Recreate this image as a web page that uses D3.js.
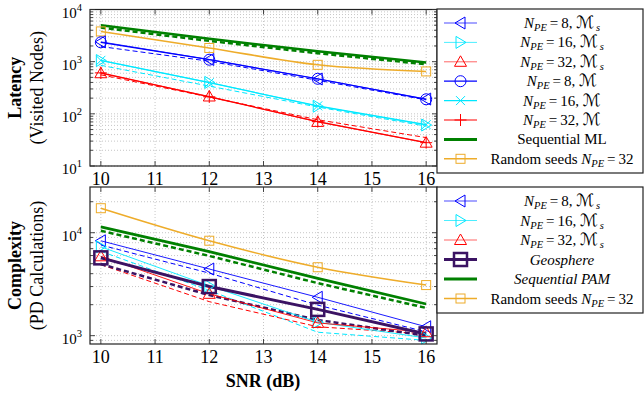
<!DOCTYPE html>
<html>
<head>
<meta charset="utf-8">
<script src="https://cdn.jsdelivr.net/npm/d3@7"></script>
<style>
  body { margin: 0; background: #fff; }
  svg { font-family: "Liberation Serif", "DejaVu Serif", serif; }
</style>
</head>
<body>
<div id="chart"></div>
<script>
// SNR points (dB)
const snr = [10, 12, 14, 16];

// latency panel (visited nodes)
const latNpe8Ms = [2400, 1100, 465, 192];
const latNpe16Ms = [1050, 400, 140, 61];
const latNpe32Ms = [600, 215, 70, 28];
const latNpe8M = [2350, 1090, 470, 190];
const latNpe16M = [1060, 395, 142, 62];
const latNpe32M = [610, 212, 71, 28];
const latSeqML = [5000, 2750, 1580, 960];
const latRandom = [3800, 1830, 870, 650];
// dashed companions (no legend entry)
const latDash8 = [1950, 1020, 440, 185];
const latDash16 = [850, 340, 135, 58];
const latDash32 = [560, 210, 77, 35];
const latDashSeq = [4500, 2500, 1450, 890];

// complexity panel (PD calculations)
const cpxNpe8Ms = [8350, 4440, 2360, 1220];
const cpxNpe16Ms = [7300, 3050, 1350, 950];
const cpxNpe32Ms = [5900, 2550, 1330, 1080];
const cpxGeo = [5700, 3000, 1800, 1040];
const cpxSeqPAM = [11400, 6550, 3600, 2030];
const cpxRandom = [17300, 8360, 4620, 3100];
const cpxDash8 = [7600, 4050, 1980, 1090];
const cpxDash16 = [6600, 2750, 1080, 900];
const cpxDash32 = [4900, 2140, 1220, 1040];
const cpxDashGeo = [4960, 2480, 1420, 1000];
const cpxDashSeq = [10450, 5950, 3240, 1860];

const xTicks = [10, 11, 12, 13, 14, 15, 16];

const BLUE = "#0000ff", CYAN = "#00e8ff", RED = "#ff0000",
      GREEN = "#008000", ORANGE = "#eeac2a", PURPLE = "#3b1363";

const width = 644, height = 396;
const svg = d3.select("#chart").append("svg")
    .attr("width", width).attr("height", height);

const x = d3.scaleLinear().domain([9.8, 16.2]).range([90, 437]);

function drawMarker(g, type, cx, cy, color, opts) {
    opts = opts || {};
    const sw = opts.sw || 1;
    if (type == "triL" || type == "triR" || type == "triU") {
        let pts;
        if (type == "triL") pts = [[cx - 5.5, cy], [cx + 4.5, cy - 6], [cx + 4.5, cy + 6]];
        if (type == "triR") pts = [[cx + 5.5, cy], [cx - 4.5, cy - 6], [cx - 4.5, cy + 6]];
        if (type == "triU") pts = [[cx, cy - 6], [cx - 6, cy + 4.5], [cx + 6, cy + 4.5]];
        g.append("polygon").attr("points", pts.map(p => p.join(",")).join(" "))
            .attr("fill", "none").attr("stroke", color).attr("stroke-width", sw);
    } else if (type == "circle") {
        g.append("circle").attr("cx", cx).attr("cy", cy).attr("r", 5.5)
            .attr("fill", "none").attr("stroke", color).attr("stroke-width", sw);
    } else if (type == "x") {
        const s = 4.5;
        g.append("path").attr("d", `M${cx - s},${cy - s}L${cx + s},${cy + s}M${cx - s},${cy + s}L${cx + s},${cy - s}`)
            .attr("stroke", color).attr("stroke-width", sw);
    } else if (type == "plus") {
        const s = 6;
        g.append("path").attr("d", `M${cx - s},${cy}L${cx + s},${cy}M${cx},${cy - s}L${cx},${cy + s}`)
            .attr("stroke", color).attr("stroke-width", sw);
    } else if (type == "square") {
        const s = opts.size || 9;
        g.append("rect").attr("x", cx - s / 2).attr("y", cy - s / 2)
            .attr("width", s).attr("height", s)
            .attr("fill", "none").attr("stroke", color).attr("stroke-width", sw);
    }
}

function drawPanel(cfg) {
    const y = cfg.y;
    const [y0, y1] = y.range(); // bottom, top
    const [xl, xr] = x.range();
    const g = svg.append("g");

    // grid
    const grid = g.append("g").attr("stroke", "#b8b8b8").attr("stroke-width", 0.8)
        .attr("stroke-dasharray", "1,2");
    xTicks.forEach(t => grid.append("line")
        .attr("x1", x(t)).attr("x2", x(t)).attr("y1", y0).attr("y2", y1));
    cfg.yGrid.forEach(v => grid.append("line")
        .attr("x1", xl).attr("x2", xr).attr("y1", y(v)).attr("y2", y(v)));

    // lines
    cfg.series.forEach(s => {
        const line = d3.line()
            .x((d, i) => x(snr[i]))
            .y(d => y(d))
            .curve(s.curve || d3.curveLinear);
        g.append("path").datum(s.values)
            .attr("d", line)
            .attr("fill", "none")
            .attr("stroke", s.color)
            .attr("stroke-width", s.width)
            .attr("stroke-dasharray", s.dash || null)
            .attr("opacity", s.opacity || 1);
    });
    // markers
    cfg.series.forEach(s => {
        if (!s.marker) return;
        s.values.forEach((v, i) => drawMarker(g, s.marker, x(snr[i]), y(v), s.color,
            { sw: s.msw, size: s.msize }));
    });

    // frame
    g.append("rect").attr("x", xl).attr("y", y1).attr("width", xr - xl).attr("height", y0 - y1)
        .attr("fill", "none").attr("stroke", "#222").attr("stroke-width", 1.2);

    // ticks (inward, both sides)
    const tk = g.append("g").attr("stroke", "#333").attr("stroke-width", 0.9);
    xTicks.forEach(t => {
        tk.append("line").attr("x1", x(t)).attr("x2", x(t)).attr("y1", y0).attr("y2", y0 - 5);
        tk.append("line").attr("x1", x(t)).attr("x2", x(t)).attr("y1", y1).attr("y2", y1 + 5);
    });
    cfg.yMajor.forEach(v => {
        tk.append("line").attr("x1", xl).attr("x2", xl + 5).attr("y1", y(v)).attr("y2", y(v));
        tk.append("line").attr("x1", xr).attr("x2", xr - 5).attr("y1", y(v)).attr("y2", y(v));
    });
    cfg.yGrid.forEach(v => {
        if (cfg.yMajor.includes(v)) return;
        tk.append("line").attr("x1", xl).attr("x2", xl + 3).attr("y1", y(v)).attr("y2", y(v));
        tk.append("line").attr("x1", xr).attr("x2", xr - 3).attr("y1", y(v)).attr("y2", y(v));
    });

    // tick labels
    xTicks.forEach(t => g.append("text")
        .attr("x", x(t)).attr("y", y0 + 19)
        .attr("text-anchor", "middle").attr("font-size", 18)
        .text(t));
    cfg.yMajor.forEach(v => {
        const t = g.append("text").attr("x", 82).attr("y", y(v) + 8)
            .attr("text-anchor", "end").attr("font-size", 15);
        t.append("tspan").text("10");
        t.append("tspan").attr("dy", -7).attr("font-size", 10.5).text(Math.round(Math.log10(v)));
    });

    // y labels
    const cy = (y0 + y1) / 2;
    g.append("text").attr("transform", `translate(21,${cy}) rotate(-90)`)
        .attr("text-anchor", "middle").attr("font-weight", "bold").attr("font-size", 18)
        .text(cfg.title);
    g.append("text").attr("transform", `translate(43,${cy}) rotate(-90)`)
        .attr("text-anchor", "middle").attr("font-size", 18)
        .text(cfg.subtitle);

    // legend
    const lg = svg.append("g");
    lg.append("rect").attr("x", 437).attr("y", cfg.legend.top)
        .attr("width", 206).attr("height", cfg.legend.bottom - cfg.legend.top)
        .attr("fill", "#fff").attr("stroke", "#222").attr("stroke-width", 1.2);
    cfg.legend.items.forEach((it, i) => {
        const ly = cfg.legend.first + i * cfg.legend.step;
        lg.append("line").attr("x1", 444).attr("x2", 477).attr("y1", ly).attr("y2", ly)
            .attr("stroke", it.color).attr("stroke-width", it.width).attr("opacity", it.opacity || 1);
        if (it.marker) drawMarker(lg, it.marker, 460.5, ly, it.color, { sw: it.msw, size: it.msize });
        const t = lg.append("text").attr("x", 562).attr("y", ly + 5)
            .attr("text-anchor", "middle").attr("font-size", 15);
        it.label(t);
    });
}

function npe(n, script) {
    return t => {
        t.append("tspan").attr("font-style", "italic").text("N");
        t.append("tspan").attr("font-style", "italic").attr("font-size", 10.5).attr("dy", 3).text("PE");
        t.append("tspan").attr("dy", -3).text("\u2009=\u2009" + n + ", ");
        t.append("tspan").attr("font-family", "DejaVu Serif, DejaVu Sans").attr("font-size", 17).text("\u2133");
        if (script) t.append("tspan").attr("font-style", "italic").attr("font-size", 10.5)
            .attr("dx", 1.5).attr("dy", 3).text("s");
    };
}
const plain = s => t => t.text(s);
const ital = s => t => t.attr("font-style", "italic").text(s);
const randomLabel = t => {
    t.append("tspan").text("Random seeds ");
    t.append("tspan").attr("font-style", "italic").text("N");
    t.append("tspan").attr("font-style", "italic").attr("font-size", 10.5).attr("dy", 3).text("PE");
    t.append("tspan").attr("dy", -3).text("\u2009=\u200932");
};

function minors(lo, hi) {
    const out = [];
    for (let e = lo; e <= hi; e++)
        for (let m = 1; m <= 9; m++) out.push(m * Math.pow(10, e));
    return out;
}

// top panel: latency
drawPanel({
    y: d3.scaleLog().domain([10, 10000]).range([166, 9.5]),
    yMajor: [10, 100, 1000, 10000],
    yGrid: minors(1, 3).concat([10000]),
    title: "Latency",
    subtitle: "(Visited Nodes)",
    series: [
        { values: latDash8, color: BLUE, width: 1, dash: "5,3" },
        { values: latDash16, color: CYAN, width: 1, dash: "5,3" },
        { values: latDash32, color: RED, width: 1, dash: "5,3" },
        { values: latDashSeq, color: GREEN, width: 2.5, dash: "5,3" },
        { values: latRandom, color: ORANGE, width: 1.6, marker: "square", curve: d3.curveMonotoneX },
        { values: latSeqML, color: GREEN, width: 2.5 },
        { values: latNpe8Ms, color: BLUE, width: 0.8, marker: "triL" },
        { values: latNpe16Ms, color: CYAN, width: 0.8, marker: "triR" },
        { values: latNpe32Ms, color: RED, width: 0.8, marker: "triU" },
        { values: latNpe8M, color: BLUE, width: 1.2, marker: "circle" },
        { values: latNpe16M, color: CYAN, width: 1.2, marker: "x" },
        { values: latNpe32M, color: RED, width: 1.2, marker: "plus" }
    ],
    legend: {
        top: 9, bottom: 173, first: 23, step: 19.4,
        items: [
            { color: BLUE, width: 1, opacity: 0.7, marker: "triL", label: npe(8, true) },
            { color: CYAN, width: 1, opacity: 0.7, marker: "triR", label: npe(16, true) },
            { color: RED, width: 1, opacity: 0.6, marker: "triU", label: npe(32, true) },
            { color: BLUE, width: 1.2, marker: "circle", label: npe(8, false) },
            { color: CYAN, width: 1.2, marker: "x", label: npe(16, false) },
            { color: RED, width: 1.2, marker: "plus", label: npe(32, false) },
            { color: GREEN, width: 3, label: plain("Sequential ML") },
            { color: ORANGE, width: 1.6, marker: "square", label: randomLabel }
        ]
    }
});

// bottom panel: complexity
drawPanel({
    y: d3.scaleLog().domain([830, 27800]).range([344, 187]),
    yMajor: [1000, 10000],
    yGrid: [900].concat(minors(3, 3), [10000, 20000]),
    title: "Complexity",
    subtitle: "(PD Calculations)",
    series: [
        { values: cpxDash8, color: BLUE, width: 1, dash: "5,3" },
        { values: cpxDash16, color: CYAN, width: 1, dash: "5,3" },
        { values: cpxDash32, color: RED, width: 1, dash: "5,3" },
        { values: cpxDashGeo, color: PURPLE, width: 2.5, dash: "5,3" },
        { values: cpxDashSeq, color: GREEN, width: 2.5, dash: "5,3" },
        { values: cpxRandom, color: ORANGE, width: 1.6, marker: "square", curve: d3.curveMonotoneX },
        { values: cpxSeqPAM, color: GREEN, width: 2.8 },
        { values: cpxNpe8Ms, color: BLUE, width: 0.9, marker: "triL" },
        { values: cpxNpe16Ms, color: CYAN, width: 0.9, marker: "triR" },
        { values: cpxNpe32Ms, color: RED, width: 0.9, marker: "triU" },
        { values: cpxGeo, color: PURPLE, width: 3, marker: "square", msw: 2.5, msize: 13 }
    ],
    legend: {
        top: 187, bottom: 313, first: 201, step: 19.5,
        items: [
            { color: BLUE, width: 1, opacity: 0.7, marker: "triL", label: npe(8, true) },
            { color: CYAN, width: 1, opacity: 0.7, marker: "triR", label: npe(16, true) },
            { color: RED, width: 1, opacity: 0.6, marker: "triU", label: npe(32, true) },
            { color: PURPLE, width: 3, marker: "square", msw: 2.5, msize: 13, label: ital("Geosphere") },
            { color: GREEN, width: 3, label: ital("Sequential PAM") },
            { color: ORANGE, width: 1.6, marker: "square", label: randomLabel }
        ]
    }
});

svg.append("text").attr("x", 263).attr("y", 387)
    .attr("text-anchor", "middle").attr("font-weight", "bold").attr("font-size", 18)
    .text("SNR (dB)");
</script>
</body>
</html>
